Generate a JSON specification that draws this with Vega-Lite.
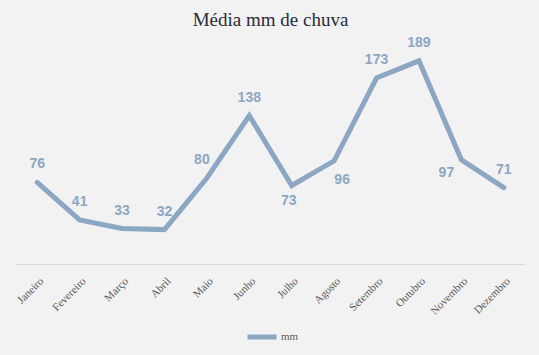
{
  "$schema": "https://vega.github.io/schema/vega-lite/v6.json",
  "width": 509,
  "height": 215,
  "autosize": {"type": "none"},
  "padding": {"left": 16, "top": 49, "right": 14, "bottom": 91},
  "background": "#F2F2F2",
  "title": {
    "text": "Média mm de chuva",
    "font": "Liberation Serif",
    "fontSize": 19,
    "fontWeight": "normal",
    "color": "#2B2B3A",
    "anchor": "middle",
    "frame": "group",
    "offset": 6
  },
  "config": {
    "view": {"stroke": null},
    "axis": {"grid": false},
    "title": {"font": "Liberation Serif"}
  },
  "data": {
    "values": [
      {"mes": "Janeiro", "mm": 76},
      {"mes": "Fevereiro", "mm": 41},
      {"mes": "Março", "mm": 33},
      {"mes": "Abril", "mm": 32},
      {"mes": "Maio", "mm": 80},
      {"mes": "Junho", "mm": 138},
      {"mes": "Julho", "mm": 73},
      {"mes": "Agosto", "mm": 96},
      {"mes": "Setembro", "mm": 173},
      {"mes": "Outubro", "mm": 189},
      {"mes": "Novembro", "mm": 97},
      {"mes": "Dezembro", "mm": 71}
    ]
  },
  "encoding": {
    "x": {
      "field": "mes",
      "type": "nominal",
      "sort": null,
      "scale": {"paddingInner": 0, "paddingOuter": 0},
      "axis": {
        "title": null,
        "labelAngle": -45,
        "labelFont": "Liberation Serif",
        "labelFontSize": 11,
        "labelColor": "#595959",
        "ticks": false,
        "domainColor": "#D9D9D9",
        "domainWidth": 1,
        "labelPadding": 11
      }
    },
    "y": {
      "field": "mm",
      "type": "quantitative",
      "scale": {"domain": [0, 200]},
      "axis": null
    }
  },
  "layer": [
    {
      "mark": {"type": "line", "strokeWidth": 5, "strokeCap": "round", "strokeJoin": "miter"},
      "encoding": {
        "color": {
          "datum": "mm",
          "scale": {"range": ["#8BA7C3"]},
          "legend": {
            "title": null,
            "orient": "none",
            "legendX": 229,
            "legendY": 271,
            "symbolType": "stroke",
            "symbolSize": 841,
            "symbolStrokeWidth": 5,
            "labelFont": "Liberation Serif",
            "labelFontSize": 11,
            "labelColor": "#595959",
            "labelOffset": 2
          }
        }
      }
    },
    {
      "transform": [{"filter": {"field": "mes", "oneOf": ["Janeiro", "Fevereiro", "Março", "Abril", "Junho", "Setembro", "Outubro", "Dezembro"]}}],
      "mark": {"type": "text", "font": "Liberation Sans", "fontSize": 14, "fontWeight": "bold", "color": "#8BA7C3", "baseline": "middle", "dy": -18},
      "encoding": {"text": {"field": "mm", "type": "quantitative"}}
    },
    {
      "transform": [{"filter": {"field": "mes", "equal": "Maio"}}],
      "mark": {"type": "text", "font": "Liberation Sans", "fontSize": 14, "fontWeight": "bold", "color": "#8BA7C3", "baseline": "middle", "dy": -18, "dx": -5},
      "encoding": {"text": {"field": "mm", "type": "quantitative"}}
    },
    {
      "transform": [{"filter": {"field": "mes", "equal": "Julho"}}],
      "mark": {"type": "text", "font": "Liberation Sans", "fontSize": 14, "fontWeight": "bold", "color": "#8BA7C3", "baseline": "middle", "dy": 15, "dx": -3},
      "encoding": {"text": {"field": "mm", "type": "quantitative"}}
    },
    {
      "transform": [{"filter": {"field": "mes", "equal": "Agosto"}}],
      "mark": {"type": "text", "font": "Liberation Sans", "fontSize": 14, "fontWeight": "bold", "color": "#8BA7C3", "baseline": "middle", "dy": 19, "dx": 8},
      "encoding": {"text": {"field": "mm", "type": "quantitative"}}
    },
    {
      "transform": [{"filter": {"field": "mes", "equal": "Novembro"}}],
      "mark": {"type": "text", "font": "Liberation Sans", "fontSize": 14, "fontWeight": "bold", "color": "#8BA7C3", "baseline": "middle", "dy": 13, "dx": -15},
      "encoding": {"text": {"field": "mm", "type": "quantitative"}}
    }
  ]
}
